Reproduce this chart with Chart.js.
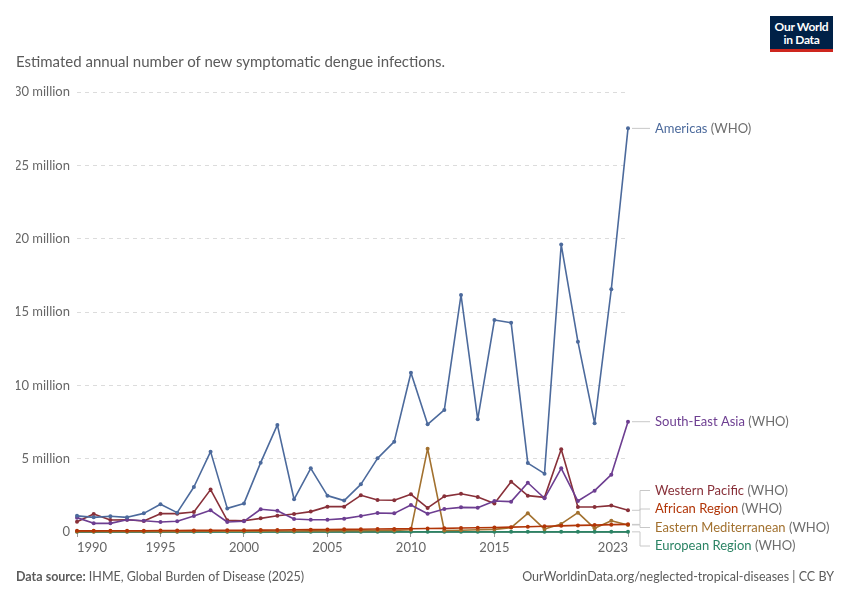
<!DOCTYPE html>
<html lang="en">
<head>
<meta charset="UTF-8">
<title>Dengue infections</title>
<script src="https://cdn.jsdelivr.net/npm/chart.js"></script>
<style>
  body { margin: 0; background: #fff; font-family: Lato, "Open Sans", sans-serif; }
  #wrap { position: relative; width: 850px; height: 600px; overflow: hidden; }
  #chart { position: absolute; left: 0; top: 0; }
  .subtitle { position: absolute; left: 16px; top: 52px; font-size: 15px; color: #5b5b5b; }
  .logo { position: absolute; left: 770px; top: 16px; width: 63px; background: #002147;
          border-bottom: 3px solid #ce261e; color: #fff; font-size: 12px; font-weight: 700;
          line-height: 13px; text-align: center; padding-top: 4px; box-sizing: content-box; height: 29px; letter-spacing: -0.3px; }
  .foot { position: absolute; top: 569px; font-size: 12.5px; color: #5b5b5b; }
  .foot b { font-weight: 700; }
</style>
</head>
<body>
<div id="wrap">
  <canvas id="chart" width="850" height="600"></canvas>
  <div class="subtitle">Estimated annual number of new symptomatic dengue infections.</div>
  <div class="logo">Our World<br>in Data</div>
  <div class="foot" style="left:16px"><b>Data source:</b> IHME, Global Burden of Disease (2025)</div>
  <div class="foot" style="right:16px">OurWorldinData.org/neglected-tropical-diseases | CC BY</div>
</div>

<script>
// years and tick marks
const years = [1990, 1991, 1992, 1993, 1994, 1995, 1996, 1997, 1998, 1999,
               2000, 2001, 2002, 2003, 2004, 2005, 2006, 2007, 2008, 2009,
               2010, 2011, 2012, 2013, 2014, 2015, 2016, 2017, 2018, 2019,
               2020, 2021, 2022, 2023];
const xTicks = [1990, 1995, 2000, 2005, 2010, 2015, 2023];
const yTicks = [0, 5, 10, 15, 20, 25, 30];

// values in millions
const americas = [1.1, 1.0, 1.07, 1.0, 1.27, 1.89, 1.32, 3.07, 5.48, 1.61,
                  1.95, 4.73, 7.3, 2.23, 4.34, 2.48, 2.14, 3.25, 5.02, 6.16,
                  10.86, 7.34, 8.32, 16.16, 7.68, 14.45, 14.27, 4.7, 3.98, 19.6,
                  12.98, 7.41, 16.55, 27.52];
const southEastAsia = [0.98, 0.59, 0.59, 0.84, 0.77, 0.68, 0.73, 1.09, 1.48, 0.68,
                       0.73, 1.55, 1.45, 0.89, 0.84, 0.84, 0.91, 1.09, 1.30, 1.27,
                       1.84, 1.25, 1.57, 1.68, 1.66, 2.11, 2.07, 3.36, 2.30, 4.34,
                       2.11, 2.82, 3.91, 7.52];
const westernPacific = [0.70, 1.23, 0.82, 0.84, 0.75, 1.25, 1.25, 1.36, 2.89, 0.80,
                        0.77, 0.93, 1.11, 1.23, 1.39, 1.73, 1.73, 2.50, 2.18, 2.16,
                        2.57, 1.64, 2.43, 2.61, 2.39, 1.95, 3.43, 2.48, 2.36, 5.64,
                        1.70, 1.70, 1.80, 1.48];
const african = [0.08, 0.08, 0.09, 0.09, 0.09, 0.10, 0.10, 0.11, 0.11, 0.12,
                 0.12, 0.13, 0.14, 0.15, 0.16, 0.17, 0.18, 0.19, 0.20, 0.21,
                 0.22, 0.24, 0.25, 0.27, 0.29, 0.31, 0.33, 0.36, 0.39, 0.42,
                 0.45, 0.47, 0.50, 0.52];
const easternMed = [0.03, 0.03, 0.03, 0.03, 0.04, 0.04, 0.04, 0.05, 0.05, 0.05,
                    0.06, 0.06, 0.07, 0.07, 0.08, 0.08, 0.09, 0.09, 0.10, 0.10,
                    0.15, 5.68, 0.10, 0.12, 0.15, 0.18, 0.30, 1.27, 0.20, 0.55,
                    1.32, 0.25, 0.77, 0.48];
const european = [0.01, 0.01, 0.01, 0.01, 0.01, 0.01, 0.01, 0.01, 0.01, 0.01,
                  0.01, 0.01, 0.01, 0.01, 0.01, 0.01, 0.01, 0.01, 0.01, 0.01,
                  0.01, 0.01, 0.01, 0.01, 0.01, 0.01, 0.01, 0.01, 0.01, 0.01,
                  0.01, 0.01, 0.01, 0.01];

const seriesNames = ['Americas', 'South-East Asia', 'Western Pacific', 'African Region',
                     'Eastern Mediterranean', 'European Region'];
const seriesValues = [americas, southEastAsia, westernPacific, african, easternMed, european];
const seriesColors = ['#4c6a9c', '#6d3e91', '#883039', '#b13507', '#a2712f', '#2c8465'];

const datasets = seriesNames.map((name, k) => ({
    label: name,
    data: seriesValues[k].map((v, i) => ({ x: years[i], y: v })),
    borderColor: seriesColors[k],
    backgroundColor: seriesColors[k],
    borderWidth: 1.6,
    borderJoinStyle: 'round',
    borderCapStyle: 'round',
    pointRadius: 2,
    pointHoverRadius: 2,
    pointBorderWidth: 0,
    tension: 0,
    clip: false
}));

// labels at the right end of each line
const endLabels = {
    id: 'endLabels',
    afterDatasetsDraw(chart) {
        const ctx = chart.ctx;
        const items = chart.data.datasets.map((ds, k) => {
            const meta = chart.getDatasetMeta(k);
            const p = meta.data[meta.data.length - 1];
            return { name: ds.label, color: ds.borderColor, px: p.x, py: p.y, y: p.y };
        }).sort((a, b) => a.py - b.py);

        const gap = 18.5;
        const maxY = chart.chartArea.bottom + 14;
        for (let pass = 0; pass < 100; pass++) {
            for (let i = 1; i < items.length; i++) {
                const d = items[i].y - items[i - 1].y;
                if (d < gap) {
                    const s = (gap - d) / 2;
                    items[i].y += s;
                    items[i - 1].y -= s;
                }
            }
            const last = items[items.length - 1];
            if (last.y > maxY) last.y = maxY;
        }

        ctx.save();
        ctx.font = '13px Lato';
        ctx.textBaseline = 'middle';
        items.forEach(it => {
            const x0 = it.px + 4, xe = it.px + 12, x1 = it.px + 22;
            ctx.strokeStyle = '#c8c8c8';
            ctx.lineWidth = 1;
            ctx.beginPath();
            if (Math.abs(it.y - it.py) < 1) {
                ctx.moveTo(x0, it.py);
                ctx.lineTo(x1, it.py);
            } else {
                ctx.moveTo(x0, it.py);
                ctx.lineTo(xe, it.py);
                ctx.lineTo(xe, it.y);
                ctx.lineTo(x1, it.y);
            }
            ctx.stroke();
            const tx = x1 + 5;
            ctx.fillStyle = it.color;
            ctx.fillText(it.name, tx, it.y);
            const w = ctx.measureText(it.name + ' ').width;
            ctx.fillStyle = '#6e6e6e';
            ctx.fillText('(WHO)', tx + w, it.y);
        });
        ctx.restore();
    }
};

new Chart(document.getElementById('chart'), {
    type: 'line',
    data: { datasets: datasets },
    options: {
        responsive: false,
        animation: false,
        events: [],
        layout: { padding: { left: 16, right: 222, top: 92, bottom: 40 } },
        plugins: { legend: { display: false }, tooltip: { enabled: false } },
        scales: {
            x: {
                type: 'linear',
                min: 1990,
                max: 2023,
                afterBuildTicks: scale => { scale.ticks = xTicks.map(v => ({ value: v })); },
                afterFit: scale => { scale.height = 28; },
                ticks: {
                    align: 'inner',
                    autoSkip: false,
                    maxRotation: 0,
                    padding: 3,
                    color: '#666',
                    font: { family: 'Lato', size: 13 },
                    callback: v => String(v)
                },
                grid: { drawOnChartArea: false, tickLength: 5, color: '#999' },
                border: { display: true, color: '#999' }
            },
            y: {
                min: 0,
                max: 30,
                afterBuildTicks: scale => { scale.ticks = yTicks.map(v => ({ value: v })); },
                afterFit: scale => { scale.width = 61; },
                ticks: {
                    padding: 7,
                    color: '#666',
                    font: { family: 'Lato', size: 13 },
                    callback: v => v === 0 ? '0' : v + ' million'
                },
                grid: { drawTicks: false, color: '#dcdcdc', lineWidth: 1 },
                border: { display: false, dash: [4, 4] }
            }
        }
    },
    plugins: [endLabels]
});
</script>
</body>
</html>
